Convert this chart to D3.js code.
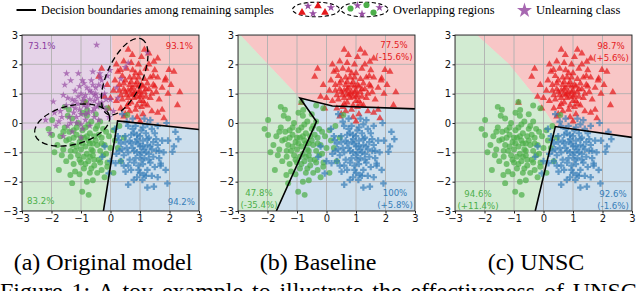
<!DOCTYPE html>
<html>
<head>
<meta charset="utf-8">
<script src="https://cdn.jsdelivr.net/npm/d3@7"></script>
<style>
  body { margin: 0; background: #fff; }
  svg { display: block; }
</style>
</head>
<body>
<svg id="fig" width="640" height="291"></svg>
<script>
// ---- data (2-D embedding coordinates) ----
var ticks = [-3, -2, -1, 0, 1, 2, 3];

var redPts = [
  [0.85,1.05],[0.7,1.0],[1.0,1.1],[0.9,0.9],[0.75,1.2],[1.05,0.95],[0.6,1.1],[0.95,1.25],[1.15,1.05],[0.8,0.85],
  [0.65,1.3],[1.1,1.25],[0.55,0.95],[1.2,0.9],[0.9,1.4],[0.7,0.7],[1.0,0.75],[0.45,1.15],[1.3,1.15],[0.8,1.55],
  [1.15,1.5],[0.5,1.45],[1.35,0.85],[0.6,0.65],[1.05,0.55],[0.35,0.95],[1.45,1.3],[0.75,1.8],[1.0,1.7],[0.4,1.6],
  [1.25,0.6],[0.85,0.45],[1.55,1.05],[0.3,1.3],[1.2,1.85],[0.55,1.85],[1.6,1.55],[0.2,0.75],[0.65,0.4],[1.4,0.4],
  [0.95,2.0],[0.25,1.75],[1.75,1.2],[0.1,1.1],[1.1,0.3],[0.5,0.3],[1.5,1.8],[0.15,1.45],[1.65,0.8],[0.7,2.05],
  [1.3,2.0],[0.0,0.85],[0.35,0.5],[1.85,1.45],[0.45,2.1],[1.05,2.25],[0.9,0.2],[1.6,0.35],[0.2,2.0],[1.45,1.6],
  [0.8,1.0],[0.95,1.05],[0.7,1.15],[1.05,1.3],[0.6,0.85],[0.9,0.6],[1.2,1.15],[0.75,0.95],[1.0,0.9],[0.85,1.3],
  [0.5,1.05],[1.25,1.35],[0.65,1.55],[1.1,0.75],[0.4,0.8],[1.35,1.55],[0.55,0.55],[0.95,1.55],[1.4,1.0],[0.3,1.1],
  [0.7,1.4],[1.15,0.65],[0.85,1.7],[0.45,1.35],[1.5,1.25],
  [0.74,2.32],[1.3,2.37],[1.47,2.09],[1.98,1.81],[2.15,1.75],[1.87,1.52],[2.27,0.61],[1.81,0.16],[-0.4,1.58],[-0.11,1.3],
  [0.34,1.81],[-0.85,0.69],[-0.06,0.5],[0.45,0.22],[1.0,0.05],[1.95,1.0],[1.75,0.45],[-0.2,0.9],[2.05,1.3],[1.6,2.2],
  [-0.3,1.85],[2.35,1.05],[0.6,2.5],[1.15,2.5]
];

var greenPts = [
  [-0.75,-0.6],[-0.9,-0.5],[-0.6,-0.7],[-0.85,-0.8],[-0.55,-0.45],[-1.05,-0.65],[-0.7,-0.35],[-1.0,-0.9],[-0.45,-0.75],[-0.8,-1.05],
  [-1.15,-0.4],[-0.35,-0.95],[-0.95,-0.25],[-0.6,-1.1],[-1.3,-0.75],[-0.3,-0.5],[-0.65,-0.9],[-1.1,-1.1],[-0.5,-0.2],[-1.25,-0.5],
  [-0.4,-1.25],[-0.85,-0.15],[-1.4,-0.3],[-0.2,-0.75],[-1.2,-0.95],[-0.75,-1.3],[-0.25,-0.2],[-1.5,-0.6],[-0.55,-1.45],[-1.0,-1.35],
  [-0.15,-1.05],[-1.35,-1.15],[-0.65,0.05],[-1.1,0.0],[-0.35,0.05],[-1.6,-0.9],[-0.9,-1.55],[-0.05,-0.45],[-1.55,-0.15],[-0.45,-1.7],
  [-1.25,-1.4],[0.0,-0.85],[-1.7,-0.45],[-0.8,0.25],[-1.3,0.15],[-0.1,-1.35],[-0.7,-1.7],[-1.5,-1.3],[0.1,-0.25],[-1.8,-0.75],
  [-1.05,-1.75],[-0.3,-1.6],[-0.5,0.3],[-1.65,-1.1],[0.15,-0.6],[-1.45,0.25],[-0.95,0.35],[-0.2,-1.85],[-1.2,-1.65],[-0.6,-1.95],
  [-0.7,-0.7],[-0.95,-0.7],[-0.5,-0.6],[-0.8,-0.45],[-1.0,-0.5],[-0.6,-0.95],[-0.9,-1.15],[-0.4,-0.4],[-1.15,-0.8],[-0.7,-1.15],
  [-0.3,-0.7],[-1.25,-0.25],[-0.55,-1.25],[-1.05,-1.25],[-0.25,-1.1],[-1.4,-0.55],[-0.75,-0.05],[-0.45,-0.1],[-1.35,-0.95],[-0.85,-1.4],
  [-0.15,-0.3],[-1.6,-0.3],[-0.65,-1.55],[-1.15,-0.15],[-0.35,-1.35],
  [-1.98,0.1],[-1.98,-0.41],[-1.41,0.45],[-0.79,0.44],[-0.11,0.5],[-0.85,0.72],[-0.96,-2.34],[-0.74,-2.45],[-1.36,-1.77],[-1.3,-2.05],
  [-0.8,-2.0],[-0.11,-1.49],[0.57,0.27],[0.3,-0.1],[-1.75,-1.6],[0.25,-0.85],[-1.9,-1.0],[0.35,-1.3],[-2.1,-0.2],[0.1,-1.7],
  [-1.55,0.55],[-0.35,0.6],[0.45,-0.5]
];

var bluePts = [
  [1.0,-0.8],[0.85,-0.65],[1.15,-0.9],[0.9,-1.0],[1.1,-0.6],[0.75,-0.85],[1.25,-0.75],[1.0,-0.45],[0.65,-0.6],[1.3,-1.05],
  [0.85,-1.2],[1.15,-1.2],[0.55,-0.85],[1.45,-0.65],[1.2,-0.35],[0.8,-0.35],[1.35,-1.35],[0.95,-1.45],[0.45,-1.1],[1.55,-0.95],
  [1.05,-1.0],[0.65,-1.25],[1.3,-0.5],[0.9,-0.55],[1.5,-0.35],[0.5,-0.45],[1.1,-1.4],[0.35,-0.7],[1.65,-1.2],[0.85,-0.1],
  [1.25,-0.05],[0.45,-1.45],[1.5,-1.5],[1.0,-1.7],[0.7,-1.6],[0.25,-0.45],[1.75,-0.6],[1.25,-1.6],[0.6,-0.1],[1.4,-0.9],
  [1.05,-0.25],[0.7,-0.4],[1.6,-0.75],[0.35,-1.3],[1.8,-1.0],[0.55,0.05],[1.15,0.15],[0.9,-1.85],[1.4,-1.8],[0.2,-1.05],
  [1.7,-1.45],[0.75,0.15],[1.95,-0.6],[0.15,-0.2],[1.35,0.1],[1.6,-0.1],
  [0.95,-0.7],[1.1,-0.8],[0.8,-0.95],[1.2,-1.0],[0.9,-0.4],[1.05,-1.25],[0.7,-0.7],[1.35,-0.8],[0.6,-1.0],[1.0,-1.1],
  [1.25,-0.55],[0.8,-1.35],[1.45,-1.15],[0.5,-0.65],[1.1,-0.15],[0.95,-1.6],[1.55,-0.55],[0.4,-0.9],[1.3,-1.25],[0.75,-0.2],
  [1.2,-1.8],[0.6,-1.45],[1.65,-0.95],[0.3,-0.95],[1.4,-0.2],
  [2.15,-0.8],[1.87,-1.6],[1.93,-2.06],[1.47,-2.17],[1.08,-1.94],[0.79,-1.94],[1.13,-1.77],[0.51,-1.66],[0.28,-0.58],[-0.28,-1.15],
  [0.17,-1.37],[-0.06,-1.72],[2.1,-0.98],[1.7,-1.38],[1.6,-1.85],[2.2,-0.3],[0.4,0.3],[-0.2,-0.8],[1.9,0.0],[1.25,-2.2],
  [0.0,-1.3],[2.3,-0.55],[0.6,-2.1]
];

// unlearning class, only present in the original model
var purplePts = [
  [-0.7,0.8],[-0.9,0.6],[-0.5,1.0],[-1.1,0.9],[-0.6,0.4],[-0.8,1.2],[-0.3,0.7],[-1.2,0.5],[-0.4,1.3],[-1.0,0.3],
  [-0.2,1.0],[-1.3,0.8],[-0.65,1.45],[-0.85,0.1],[-0.45,0.55],[-1.5,0.6],[-0.15,0.45],[-1.05,1.25],[-0.55,0.2],[-1.4,0.2],
  [-0.35,1.55],[-0.95,1.45],[-1.6,0.95],[-0.75,0.35],[-0.25,1.25],[-1.2,1.1],[0.0,0.8],[-1.7,0.4],[-0.55,0.75],[-0.9,0.85],
  [-1.15,0.0],[-1.45,-0.1],[-1.75,0.05],[-1.3,-0.3],[-0.95,-0.2],[-1.6,-0.45],[-2.05,-0.35],[-1.85,-0.1],[-1.0,-0.5],[-0.7,-0.1],
  [-0.1,1.6],[0.2,1.2],[0.35,1.5],[0.1,0.4],[-1.94,0.73],[-1.49,1.69],[-1.09,1.69],[-0.36,1.69],[-0.02,1.8],[-0.47,2.66],
  [-1.35,1.45],[-0.6,1.75],[-1.25,0.35],[-0.4,0.1],[0.25,0.85],[-1.55,1.3],[-0.8,0.55],[-0.3,0.95],[-1.1,0.65],[0.5,1.9],
  [0.6,2.05],[-1.9,0.35],[-0.05,0.2],[-2.2,0.1],[1.25,2.4],[-0.65,1.05],[-1.0,1.0],[-0.45,0.85],[-0.85,0.95],[-1.2,0.75],
  [-0.75,0.65],[-0.95,0.75],[-0.55,0.95],[-1.05,0.45],[-0.4,0.65],[-0.7,1.1],[-1.3,0.6],[-0.25,0.55],[-0.6,1.3],[-1.15,0.2],
  [-0.85,0.3],[-0.5,1.2],[-1.45,0.85],[-0.15,0.8],[-0.9,1.35],[-1.65,0.2],[-0.3,1.45],[-1.0,-0.05],[-1.35,0.0],[-0.55,0.5]
];

// decision regions (polygons in data space)
var regionsA = [
  {cls: 'purple', pts: [[-3,3],[0.05,3],[0.1,0.1],[-3,-0.25]]},
  {cls: 'red',    pts: [[0.05,3],[3,3],[3,-0.22],[0.24,0.07],[0.1,0.1]]},
  {cls: 'blue',   pts: [[0.24,0.07],[3,-0.22],[3,-3],[-0.24,-3]]},
  {cls: 'green',  pts: [[-3,-0.25],[0.1,0.1],[0.24,0.07],[-0.24,-3],[-3,-3]]}
];
var regionsB = [
  {cls: 'purple', pts: [[-3,3],[-2.92,3],[-3,2.88]]},
  {cls: 'red',    pts: [[-2.92,3],[3,3],[3,0.48],[0.2,0.58],[-0.9,0.85]]},
  {cls: 'green',  pts: [[-3,2.88],[-2.92,3],[-0.9,0.85],[-0.34,0.05],[-1.7,-3],[-3,-3]]},
  {cls: 'blue',   pts: [[-0.9,0.85],[0.2,0.58],[3,0.48],[3,-3],[-1.7,-3],[-0.34,0.05]]}
];
var regionsC = [
  {cls: 'red',   pts: [[-2.26,3],[3,3],[3,-0.49],[0.4,-0.12],[-0.28,0.9],[-1.19,2.03]]},
  {cls: 'green', pts: [[-3,3],[-2.26,3],[-1.19,2.03],[-0.28,0.9],[0.4,-0.12],[-0.28,-3],[-3,-3]]},
  {cls: 'blue',  pts: [[0.4,-0.12],[3,-0.49],[3,-3],[-0.28,-3]]}
];

// black decision boundaries among remaining classes
var boundaryA = [[3,-0.22],[0.24,0.07],[-0.24,-3]];
var boundaryB = [[3,0.48],[0.2,0.58],[-0.9,0.85],[-0.34,0.05],[-1.7,-3]];
var boundaryC = [[3,-0.49],[0.4,-0.12],[-0.28,-3]];

// overlapping regions in the original model
var overlapEllipses = [
  {cx: -1.3, cy: -0.07, rx: 1.3, ry: 0.66, angle: 14},
  {cx: 0.48, cy: 1.58, rx: 1.4, ry: 0.6, angle: 66}
];

var accA = ['73.1%', '93.1%', '83.2%', '94.2%'];
var accB = ['77.5%', '47.8%', '100%'];
var deltaB = ['(-15.6%)', '(-35.4%)', '(+5.8%)'];
var accC = ['98.7%', '94.6%', '92.6%'];
var deltaC = ['(+5.6%)', '(+11.4%)', '(-1.6%)'];

var captions = ['(a) Original model', '(b) Baseline', '(c) UNSC'];


// ---- styles ----
var color = {
  red: '#e41a1c',
  green: '#4daf4a',
  blue: '#377eb8',
  purple: '#984ea3'
};
var labelColor = {
  red: '#e41a1c',
  green: '#4daf4a',
  blue: '#377eb8',
  purple: '#8a3ea0'
};
var symbolOf = {
  red: d3.symbol(d3.symbolTriangle, 22),
  green: d3.symbol(d3.symbolCircle, 28),
  blue: d3.symbol(d3.symbolCross, 24),
  purple: d3.symbol(d3.symbolStar, 17)
};

var plotW = 177, plotTop = 35, plotH = 176;
var svg = d3.select('#fig');
var sans = '"DejaVu Sans", sans-serif';
var serif = '"Liberation Serif", "Times New Roman", serif';

var panels = [
  {
    left: 22,
    regions: regionsA,
    boundary: boundaryA,
    classes: [['red', redPts], ['green', greenPts], ['blue', bluePts], ['purple', purplePts]],
    ellipses: overlapEllipses,
    labels: [
      {lines: [accA[0]], cls: 'purple', x: 6, y: 14, anchor: 'start'},
      {lines: [accA[1]], cls: 'red', x: 171, y: 14, anchor: 'end'},
      {lines: [accA[2]], cls: 'green', x: 5, y: 169, anchor: 'start'},
      {lines: [accA[3]], cls: 'blue', x: 173, y: 170, anchor: 'end'}
    ]
  },
  {
    left: 238,
    regions: regionsB,
    boundary: boundaryB,
    classes: [['red', redPts], ['green', greenPts], ['blue', bluePts]],
    ellipses: [],
    labels: [
      {lines: [accB[0], deltaB[0]], cls: 'red', x: 156, y: 13, anchor: 'middle'},
      {lines: [accB[1], deltaB[1]], cls: 'green', x: 21, y: 161, anchor: 'middle'},
      {lines: [accB[2], deltaB[2]], cls: 'blue', x: 157, y: 161, anchor: 'middle'}
    ]
  },
  {
    left: 455,
    regions: regionsC,
    boundary: boundaryC,
    classes: [['red', redPts], ['green', greenPts], ['blue', bluePts]],
    ellipses: [],
    labels: [
      {lines: [accC[0], deltaC[0]], cls: 'red', x: 156, y: 14, anchor: 'middle'},
      {lines: [accC[1], deltaC[1]], cls: 'green', x: 23, y: 162, anchor: 'middle'},
      {lines: [accC[2], deltaC[2]], cls: 'blue', x: 158, y: 162, anchor: 'middle'}
    ]
  }
];

drawLegend(svg);
panels.forEach(function(p, i) {
  drawPanel(svg, p, i);
});
drawCaptions(svg);


function drawPanel(svg, p, i) {
  var x = d3.scaleLinear().domain([-3, 3]).range([p.left, p.left + plotW]);
  var y = d3.scaleLinear().domain([-3, 3]).range([plotTop + plotH, plotTop]);
  var line = d3.line()
    .x(function(d) { return x(d[0]); })
    .y(function(d) { return y(d[1]); });

  svg.append('clipPath')
    .attr('id', 'clip' + i)
    .append('rect')
      .attr('x', p.left)
      .attr('y', plotTop)
      .attr('width', plotW)
      .attr('height', plotH);

  var g = svg.append('g')
    .attr('clip-path', 'url(#clip' + i + ')');

  g.selectAll('.region')
    .data(p.regions)
    .join('path')
      .attr('class', 'region')
      .attr('d', function(d) { return line(d.pts) + 'Z'; })
      .attr('fill', function(d) { return color[d.cls]; })
      .attr('fill-opacity', 0.25)
      .attr('stroke', 'none');

  g.selectAll('.gx')
    .data(ticks)
    .join('line')
      .attr('class', 'gx')
      .attr('x1', x).attr('x2', x)
      .attr('y1', plotTop).attr('y2', plotTop + plotH)
      .attr('stroke', '#b0b0b0')
      .attr('stroke-width', 0.9);

  g.selectAll('.gy')
    .data(ticks)
    .join('line')
      .attr('class', 'gy')
      .attr('y1', y).attr('y2', y)
      .attr('x1', p.left).attr('x2', p.left + plotW)
      .attr('stroke', '#b0b0b0')
      .attr('stroke-width', 0.9);

  p.classes.forEach(function(c) {
    var cls = c[0];
    g.append('g')
      .selectAll('path')
      .data(c[1])
      .join('path')
        .attr('d', symbolOf[cls])
        .attr('transform', function(d) {
          return 'translate(' + x(d[0]) + ',' + y(d[1]) + ')';
        })
        .attr('fill', color[cls])
        .attr('fill-opacity', 0.72);
  });

  g.append('path')
    .attr('d', line(p.boundary))
    .attr('fill', 'none')
    .attr('stroke', '#000')
    .attr('stroke-width', 1.6);

  var k = plotW / 6;
  g.selectAll('.ell')
    .data(p.ellipses)
    .join('ellipse')
      .attr('class', 'ell')
      .attr('transform', function(d) {
        return 'translate(' + x(d.cx) + ',' + y(d.cy) + ') rotate(' + (-d.angle) + ')';
      })
      .attr('rx', function(d) { return d.rx * k; })
      .attr('ry', function(d) { return d.ry * k; })
      .attr('fill', 'none')
      .attr('stroke', '#000')
      .attr('stroke-width', 1.3)
      .attr('stroke-dasharray', '6,3.5');

  // frame
  svg.append('rect')
    .attr('x', p.left)
    .attr('y', plotTop)
    .attr('width', plotW)
    .attr('height', plotH)
    .attr('fill', 'none')
    .attr('stroke', '#222')
    .attr('stroke-width', 0.9);

  var fmt = d3.format('d');
  var ax = svg.append('g')
    .attr('transform', 'translate(0,' + (plotTop + plotH) + ')')
    .call(d3.axisBottom(x).tickValues(ticks).tickFormat(fmt).tickSize(2.5).tickPadding(1.5));
  var ay = svg.append('g')
    .attr('transform', 'translate(' + p.left + ',0)')
    .call(d3.axisLeft(y).tickValues(ticks).tickFormat(fmt).tickSize(2.5).tickPadding(1.5));

  [ax, ay].forEach(function(a) {
    a.select('.domain').remove();
    a.selectAll('line').attr('stroke', '#222');
    a.selectAll('text')
      .attr('fill', '#111')
      .style('font-family', sans)
      .style('font-size', '10px');
  });

  p.labels.forEach(function(l) {
    var t = svg.append('text')
      .attr('text-anchor', l.anchor)
      .attr('fill', labelColor[l.cls])
      .style('font-family', sans)
      .style('font-size', '8.6px');
    l.lines.forEach(function(s, j) {
      t.append('tspan')
        .attr('x', p.left + l.x)
        .attr('y', plotTop + l.y + j * 12)
        .text(s);
    });
  });
}


function drawLegend(svg) {
  var lg = svg.append('g');

  lg.append('line')
    .attr('x1', 16.5).attr('x2', 36)
    .attr('y1', 10).attr('y2', 10)
    .attr('stroke', '#000')
    .attr('stroke-width', 2);

  lg.append('text')
    .attr('x', 41).attr('y', 14)
    .style('font-family', serif)
    .style('font-size', '12.3px')
    .text('Decision boundaries among remaining samples');

  // two small dashed ellipses with mixed markers
  var icons = [
    {cx: 316, items: [['red', -14, 3], ['purple', -8, -3.5], ['red', 2, -3.5], ['purple', -3, 4], ['red', 9, 3], ['purple', 15, -2]]},
    {cx: 364.5, items: [['green', -14, -1], ['purple', -7, -4], ['green', 2, -4.5], ['purple', -2.5, 4.5], ['green', 9, 3], ['purple', 15, -2]]}
  ];
  icons.forEach(function(ic) {
    var e = lg.append('g').attr('transform', 'translate(' + ic.cx + ',9.5)');
    e.append('ellipse')
      .attr('rx', 23.5).attr('ry', 7.3)
      .attr('fill', 'none')
      .attr('stroke', '#000')
      .attr('stroke-width', 1.1)
      .attr('stroke-dasharray', '4,2.5');
    e.selectAll('path')
      .data(ic.items)
      .join('path')
        .attr('d', function(d) {
          var sz = {red: 26, green: 30, purple: 22}[d[0]];
          return d3.symbol(d[0] === 'red' ? d3.symbolTriangle : d[0] === 'green' ? d3.symbolCircle : d3.symbolStar, sz)();
        })
        .attr('transform', function(d) { return 'translate(' + d[1] + ',' + d[2] + ')'; })
        .attr('fill', function(d) { return color[d[0]]; });
  });

  lg.append('text')
    .attr('x', 393).attr('y', 14)
    .style('font-family', serif)
    .style('font-size', '12.4px')
    .text('Overlapping regions');

  lg.append('path')
    .attr('d', d3.symbol(d3.symbolStar, 70)())
    .attr('transform', 'translate(524.5,10.5)')
    .attr('fill', color.purple)
    .attr('fill-opacity', 0.85);

  lg.append('text')
    .attr('x', 536).attr('y', 14)
    .style('font-family', serif)
    .style('font-size', '12.6px')
    .text('Unlearning class');
}


function drawCaptions(svg) {
  var cx = [103, 318, 536];
  svg.selectAll('.cap')
    .data(captions)
    .join('text')
      .attr('class', 'cap')
      .attr('x', function(d, i) { return cx[i]; })
      .attr('y', 270)
      .attr('text-anchor', 'middle')
      .style('font-family', serif)
      .style('font-size', '24px')
      .text(function(d) { return d; });

  // the figure caption is cut by the bottom edge in the reference
  svg.append('text')
    .attr('x', 0)
    .attr('y', 299)
    .style('font-family', serif)
    .style('font-size', '24px')
    .style('word-spacing', '2.8px')
    .text('Figure 1: A toy example to illustrate the effectiveness of UNSC');
}
</script>
</body>
</html>
